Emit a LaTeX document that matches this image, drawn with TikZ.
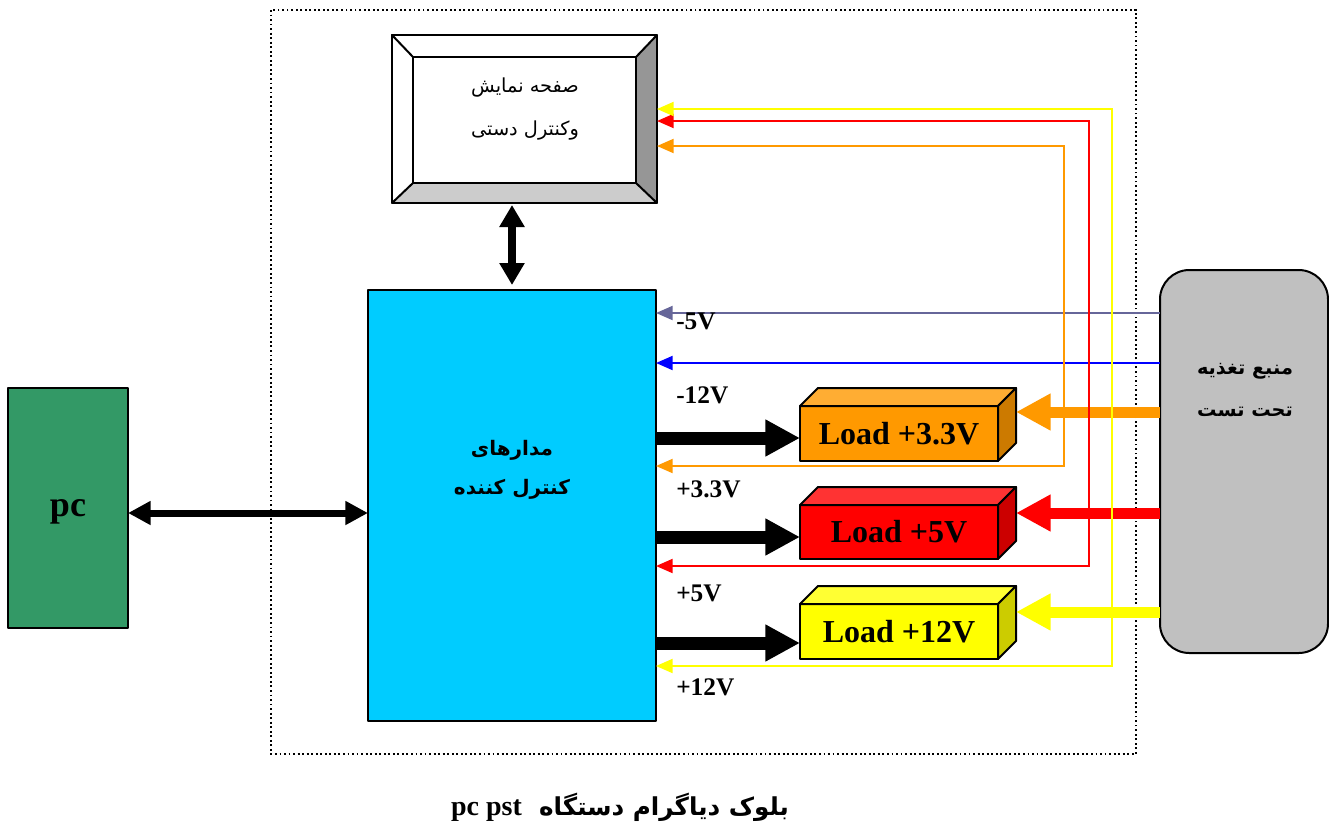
\documentclass[tikz,border=0pt]{standalone}
\usepackage{fontspec}
\setmainfont{Liberation Serif}
\newfontfamily\arabicfont[Script=Arabic]{DejaVu Sans}
\TeXXeTstate=1
\usetikzlibrary{arrows.meta,calc}
\definecolor{cctrl}{HTML}{00CCFF}
\definecolor{cpc}{HTML}{339966}
\definecolor{csup}{HTML}{C0C0C0}
\definecolor{cbevR}{HTML}{969696}
\definecolor{cbevB}{HTML}{CCCCCC}
\definecolor{cm5}{HTML}{666699}
\definecolor{cm12}{HTML}{0000FF}
\definecolor{cor}{HTML}{FF9900}
\definecolor{corT}{HTML}{FFAD33}
\definecolor{corS}{HTML}{CC7A00}
\definecolor{cre}{HTML}{FF0000}
\definecolor{creT}{HTML}{FF3333}
\definecolor{creS}{HTML}{CC0000}
\definecolor{cye}{HTML}{FFFF00}
\definecolor{cyeT}{HTML}{FFFF33}
\definecolor{cyeS}{HTML}{CCCC00}
\begin{document}
\begin{tikzpicture}[x=0.75pt,y=-0.75pt,
  box/.style={draw=black, line width=1.5pt, inner sep=0pt, outer sep=0pt, line join=round},
  lbl/.style={font=\fontsize{19}{22}\selectfont\bfseries, anchor=west, inner sep=0pt},
  loadtxt/.style={font=\fontsize{24}{28}\selectfont\bfseries},
  face/.style={draw=black, line width=1.5pt, line join=round},
  sig/.style={line width=1.5pt},
  stip/.style={{Triangle[length=12.5pt,width=10.5pt]}-},
  dtip/.style={{Triangle[length=12.5pt,width=10.5pt]}-{Triangle[length=12.5pt,width=10.5pt]}},
  bigblack/.style={line width=9.75pt, -{Triangle[length=26pt,width=26pt]}},
  bigcol/.style={line width=8.25pt, -{Triangle[length=26pt,width=26pt]}},
  artxt/.style={font=\arabicfont\fontsize{14.5}{32}\selectfont, align=center},
  artxtb/.style={font=\arabicfont\bfseries\fontsize{15}{29}\selectfont, align=center}
]
\fill[white] (0,0) rectangle (1329,829);
\useasboundingbox (0,0) rectangle (1329,829);

% dotted frame
\draw[dotted, line width=1.4pt] (271,10) rectangle (1136,754);

% routing coordinates
\coordinate (ym5) at (0,313);
\coordinate (ym12) at (0,363);
\coordinate (yo) at (0,466);
\coordinate (yr) at (0,566);
\coordinate (yy) at (0,666);
\coordinate (yot) at (0,146);
\coordinate (yrt) at (0,121);
\coordinate (yyt) at (0,109);
\coordinate (xo) at (1064,0);
\coordinate (xr) at (1089,0);
\coordinate (xy) at (1112,0);
\coordinate (ka) at (0,438);
\coordinate (kb) at (0,537);
\coordinate (kc) at (0,643);
\coordinate (ca) at (0,412);
\coordinate (cb) at (0,513);
\coordinate (cc) at (0,612);
\coordinate (yp) at (0,513);

% PC
\node[box, fill=cpc, minimum width=90pt, minimum height=180pt] (pc) at (68,508) {};
\node[font=\fontsize{27}{30}\selectfont\bfseries, inner sep=0pt] (pct) at (68,512) {pc};

% controller
\node[box, fill=cctrl, minimum width=216pt, minimum height=323.25pt] (ctrl) at (512,505.5) {};
\node[artxtb] (ctrlt) at (512,470) {\beginR مدارهای\endR\\\beginR کنترل کننده\endR};

% display
\node[box, fill=white, minimum width=198.75pt, minimum height=126pt] (disp) at (524.5,119) {};
\fill[cbevR] (636,57) -- (657,35) -- (657,203) -- (636,183) -- cycle;
\fill[cbevB] (413,183) -- (636,183) -- (657,203) -- (392,203) -- cycle;
\draw[face] (413,57) rectangle (636,183);
\draw[face] (392,35) -- (413,57) (657,35) -- (636,57) (392,203) -- (413,183) (657,203) -- (636,183);
\draw[face] (disp.north west) rectangle (disp.south east);
\node[artxt] (dispt) at (525,109) {\beginR صفحه نمایش\endR\\\beginR وکنترل دستی\endR};

% supply
\node[box, fill=csup, rounded corners=22pt, minimum width=126pt, minimum height=287.25pt] (sup) at (1244,461.5) {};
\node[artxtb, font=\arabicfont\bfseries\fontsize{14.5}{31.5}\selectfont] (supt) at (1245,390) {\beginR منبع تغذیه\endR\\\beginR تحت تست\endR};

% loads
\node[box, fill=cor, minimum width=148.5pt, minimum height=41.25pt, loadtxt] (l33) at (899,433.5) {Load +3.3V};
\filldraw[face, fill=corT] (l33.north west) -- ++(18,-18) -- ($(l33.north east)+(18,-18)$) -- (l33.north east) -- cycle;
\filldraw[face, fill=corS] (l33.north east) -- ($(l33.north east)+(18,-18)$) -- ($(l33.south east)+(18,-18)$) -- (l33.south east) -- cycle;
\coordinate (s33) at ($(l33.east)+(18,0)$);

\node[box, fill=cre, minimum width=148.5pt, minimum height=40.5pt, loadtxt] (l5) at (899,532) {Load +5V};
\filldraw[face, fill=creT] (l5.north west) -- ++(18,-18) -- ($(l5.north east)+(18,-18)$) -- (l5.north east) -- cycle;
\filldraw[face, fill=creS] (l5.north east) -- ($(l5.north east)+(18,-18)$) -- ($(l5.south east)+(18,-18)$) -- (l5.south east) -- cycle;
\coordinate (s5) at ($(l5.east)+(18,0)$);

\node[box, fill=cye, minimum width=148.5pt, minimum height=41.25pt, loadtxt] (l12) at (899,631.5) {Load +12V};
\filldraw[face, fill=cyeT] (l12.north west) -- ++(18,-18) -- ($(l12.north east)+(18,-18)$) -- (l12.north east) -- cycle;
\filldraw[face, fill=cyeS] (l12.north east) -- ($(l12.north east)+(18,-18)$) -- ($(l12.south east)+(18,-18)$) -- (l12.south east) -- cycle;
\coordinate (s12) at ($(l12.east)+(18,0)$);

% black arrows controller -> loads
\draw[bigblack] (ctrl.east |- ka) -- (l33.west |- ka);
\draw[bigblack] (ctrl.east |- kb) -- (l5.west |- kb);
\draw[bigblack] (ctrl.east |- kc) -- (l12.west |- kc);

% coloured arrows supply -> loads
\draw[bigcol, cor] (sup.west |- ca) -- (s33 |- ca);
\draw[bigcol, cre] (sup.west |- cb) -- (s5 |- cb);
\draw[bigcol, cye] (sup.west |- cc) -- (s12 |- cc);

% thin signal lines
\draw[sig, cm5, stip] (ctrl.east |- ym5) -- (sup.west |- ym5);
\draw[sig, cm12, stip] (ctrl.east |- ym12) -- (sup.west |- ym12);
\draw[sig, cor, dtip] (ctrl.east |- yo) -- (xo |- yo) -- (xo |- yot) -- (disp.east |- yot);
\draw[sig, cre, dtip] (ctrl.east |- yr) -- (xr |- yr) -- (xr |- yrt) -- (disp.east |- yrt);
\draw[sig, cye, dtip] (ctrl.east |- yy) -- (xy |- yy) -- (xy |- yyt) -- (disp.east |- yyt);

% labels
\node[lbl] (lm5) at (676,321) {-5V};
\node[lbl] (lm12) at (676,395) {-12V};
\node[lbl] (l33v) at (676,489) {+3.3V};
\node[lbl] (l5v) at (676,593) {+5V};
\node[lbl] (l12v) at (676,687) {+12V};

% bidirectional black arrows
\draw[line width=5.25pt, {Triangle[length=17pt,width=17pt]}-{Triangle[length=17pt,width=17pt]}] (pc.east |- yp) -- (ctrl.west |- yp);
\draw[line width=6pt, {Triangle[length=16.5pt,width=18pt]}-{Triangle[length=16.5pt,width=18pt]}, shorten <=1.5pt, shorten >=3.75pt] (ctrl.north |- disp.south) -- (ctrl.north);

% caption
\node[font=\bfseries\fontsize{18.5}{22}\selectfont] (cap) at (620,807) {\arabicfont\beginR بلوک دیاگرام دستگاه\ \ \beginL{\rmfamily\fontsize{21}{24}\selectfont pc pst}\endL\endR};
\end{tikzpicture}
\end{document}
